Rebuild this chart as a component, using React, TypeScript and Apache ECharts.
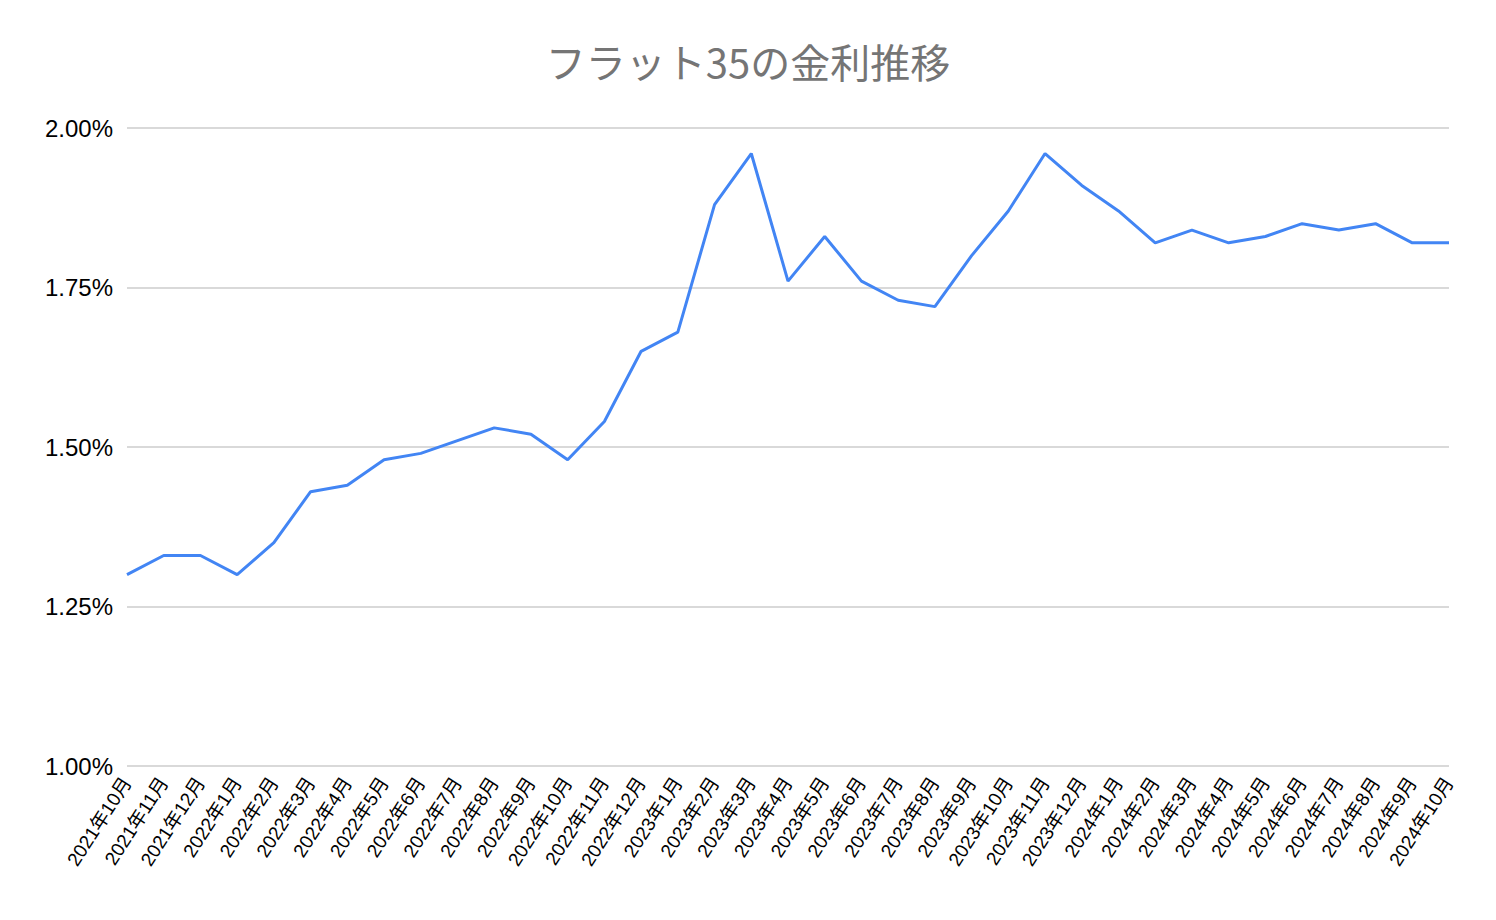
import React, { useEffect, useRef } from "react";
import * as echarts from "echarts";

const categories = [
  "2021年10月", "2021年11月", "2021年12月",
  "2022年1月", "2022年2月", "2022年3月", "2022年4月", "2022年5月", "2022年6月",
  "2022年7月", "2022年8月", "2022年9月", "2022年10月", "2022年11月", "2022年12月",
  "2023年1月", "2023年2月", "2023年3月", "2023年4月", "2023年5月", "2023年6月",
  "2023年7月", "2023年8月", "2023年9月", "2023年10月", "2023年11月", "2023年12月",
  "2024年1月", "2024年2月", "2024年3月", "2024年4月", "2024年5月", "2024年6月",
  "2024年7月", "2024年8月", "2024年9月", "2024年10月",
];

const rates = [
  1.30, 1.33, 1.33,
  1.30, 1.35, 1.43, 1.44, 1.48, 1.49,
  1.51, 1.53, 1.52, 1.48, 1.54, 1.65,
  1.68, 1.88, 1.96, 1.76, 1.83, 1.76,
  1.73, 1.72, 1.80, 1.87, 1.96, 1.91,
  1.87, 1.82, 1.84, 1.82, 1.83, 1.85,
  1.84, 1.85, 1.82, 1.82,
];

const title = "フラット35の金利推移";

export default function App() {
  const ref = useRef<HTMLDivElement>(null);
  useEffect(() => {
    if (!ref.current) return;
    const chart = echarts.init(ref.current, undefined, { renderer: "svg" });
    chart.setOption({
      animation: false,
      backgroundColor: "#ffffff",
      title: {
        text: title,
        left: "center",
        top: 36,
        textStyle: {
          fontFamily: "'Noto Sans CJK JP', sans-serif",
          fontSize: 40,
          fontWeight: "normal",
          color: "#757575",
        },
      },
      grid: { left: 127, right: 47, top: 128, bottom: 154, containLabel: false },
      xAxis: {
        type: "category",
        data: categories,
        boundaryGap: false,
        axisLine: { show: false },
        axisTick: { show: false },
        axisLabel: {
          interval: 0,
          rotate: 57,
          margin: 13,
          fontSize: 19,
          color: "#000000",
          fontFamily: "'Liberation Sans', 'Noto Sans CJK JP', sans-serif",
        },
      },
      yAxis: {
        type: "value",
        min: 1.0,
        max: 2.0,
        interval: 0.25,
        axisLine: { show: false },
        axisTick: { show: false },
        splitLine: { lineStyle: { color: "#cccccc", width: 1.5 } },
        axisLabel: {
          fontSize: 24,
          color: "#000000",
          margin: 14,
          fontFamily: "'Liberation Sans', sans-serif",
          formatter: (v: number) => v.toFixed(2) + "%",
        },
      },
      series: [
        {
          type: "line",
          data: rates,
          showSymbol: false,
          symbol: "none",
          lineStyle: { color: "#4285F4", width: 3 },
        },
      ],
    });
    return () => chart.dispose();
  }, []);
  return (
    <div
      ref={ref}
      style={{ position: "fixed", left: 0, top: 0, width: 1496, height: 920 }}
    />
  );
}
